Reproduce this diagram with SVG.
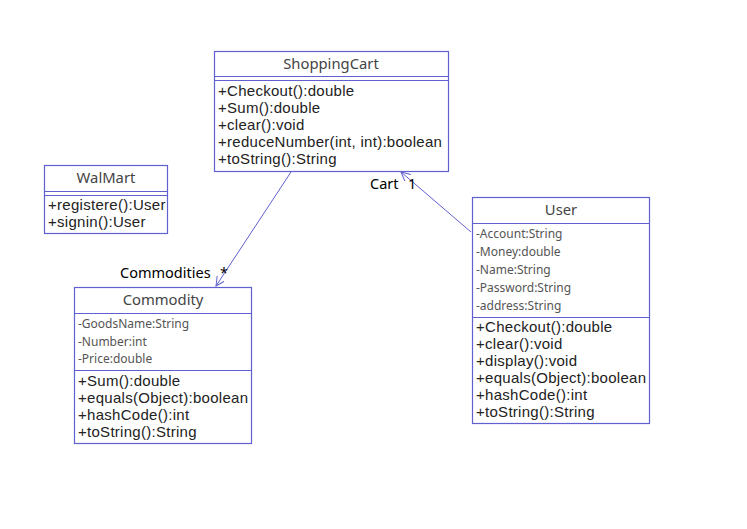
<svg xmlns="http://www.w3.org/2000/svg" width="747" height="529" viewBox="0 0 747 529">
<style>
.box{fill:#fff;stroke:#6060d0;stroke-width:1.2}
.ln{stroke:#6060d0;stroke-width:1.2}
.t{font-family:"Noto Sans","Open Sans",sans-serif;font-size:14.8px;fill:#444;text-anchor:middle}
.m{font-family:"Liberation Sans","Noto Sans",sans-serif;font-size:15px;letter-spacing:0.28px;fill:#222}
.a{font-family:"Noto Sans","Open Sans",sans-serif;font-size:12px;fill:#555}
.lbl{font-family:"Noto Sans","Open Sans",sans-serif;font-size:14.5px;fill:#000}
.conn{stroke:#6060d0;stroke-width:1;fill:none}
</style>
<defs>
<marker id="arr" markerWidth="12" markerHeight="12" refX="9" refY="4.5" orient="auto" markerUnits="userSpaceOnUse">
<path d="M0,0 L9,4.5 L0,9" fill="none" stroke="#6060d0" stroke-width="1"/>
</marker>
</defs>
<rect width="747" height="529" fill="#fff"/>
<g id="connectors">
<line class="conn" x1="291" y1="172" x2="216" y2="286" marker-end="url(#arr)"/>
<line class="conn" x1="471" y1="232" x2="401" y2="172" marker-end="url(#arr)"/>
<text class="lbl" x="120" y="278">Commodities</text>
<text class="lbl" x="220" y="278">*</text>
<text class="lbl" x="370" y="189">Cart</text>
<text class="lbl" x="408" y="189">1</text>
</g>
<g id="ShoppingCart">
<rect class="box" x="214.5" y="51.5" width="234" height="120"/>
<line class="ln" x1="214.5" y1="76.5" x2="448.5" y2="76.5"/>
<line class="ln" x1="214.5" y1="80.5" x2="448.5" y2="80.5"/>
<text class="t" x="331" y="69">ShoppingCart</text>
<text class="m" x="218" y="96">+Checkout():double</text>
<text class="m" x="218" y="113">+Sum():double</text>
<text class="m" x="218" y="130">+clear():void</text>
<text class="m" x="218" y="147">+reduceNumber(int, int):boolean</text>
<text class="m" x="218" y="164">+toString():String</text>
</g>
<g id="WalMart">
<rect class="box" x="44.5" y="165.5" width="123" height="68"/>
<line class="ln" x1="44.5" y1="191.5" x2="167.5" y2="191.5"/>
<line class="ln" x1="44.5" y1="195.5" x2="167.5" y2="195.5"/>
<text class="t" x="106" y="183">WalMart</text>
<text class="m" x="48" y="210">+registere():User</text>
<text class="m" x="48" y="227">+signin():User</text>
</g>
<g id="Commodity">
<rect class="box" x="74.5" y="287.5" width="177" height="156"/>
<line class="ln" x1="74.5" y1="313.5" x2="251.5" y2="313.5"/>
<line class="ln" x1="74.5" y1="370.5" x2="251.5" y2="370.5"/>
<text class="t" x="163" y="305">Commodity</text>
<text class="a" x="78" y="328">-GoodsName:String</text>
<text class="a" x="78" y="346">-Number:int</text>
<text class="a" x="78" y="363">-Price:double</text>
<text class="m" x="78" y="386">+Sum():double</text>
<text class="m" x="78" y="403">+equals(Object):boolean</text>
<text class="m" x="78" y="420">+hashCode():int</text>
<text class="m" x="78" y="437">+toString():String</text>
</g>
<g id="User">
<rect class="box" x="472.5" y="197.5" width="177" height="226"/>
<line class="ln" x1="472.5" y1="223.5" x2="649.5" y2="223.5"/>
<line class="ln" x1="472.5" y1="317.5" x2="649.5" y2="317.5"/>
<text class="t" x="561" y="215">User</text>
<text class="a" x="476" y="238">-Account:String</text>
<text class="a" x="476" y="256">-Money:double</text>
<text class="a" x="476" y="274">-Name:String</text>
<text class="a" x="476" y="292">-Password:String</text>
<text class="a" x="476" y="310">-address:String</text>
<text class="m" x="476" y="332">+Checkout():double</text>
<text class="m" x="476" y="349">+clear():void</text>
<text class="m" x="476" y="366">+display():void</text>
<text class="m" x="476" y="383">+equals(Object):boolean</text>
<text class="m" x="476" y="400">+hashCode():int</text>
<text class="m" x="476" y="417">+toString():String</text>
</g>
</svg>
